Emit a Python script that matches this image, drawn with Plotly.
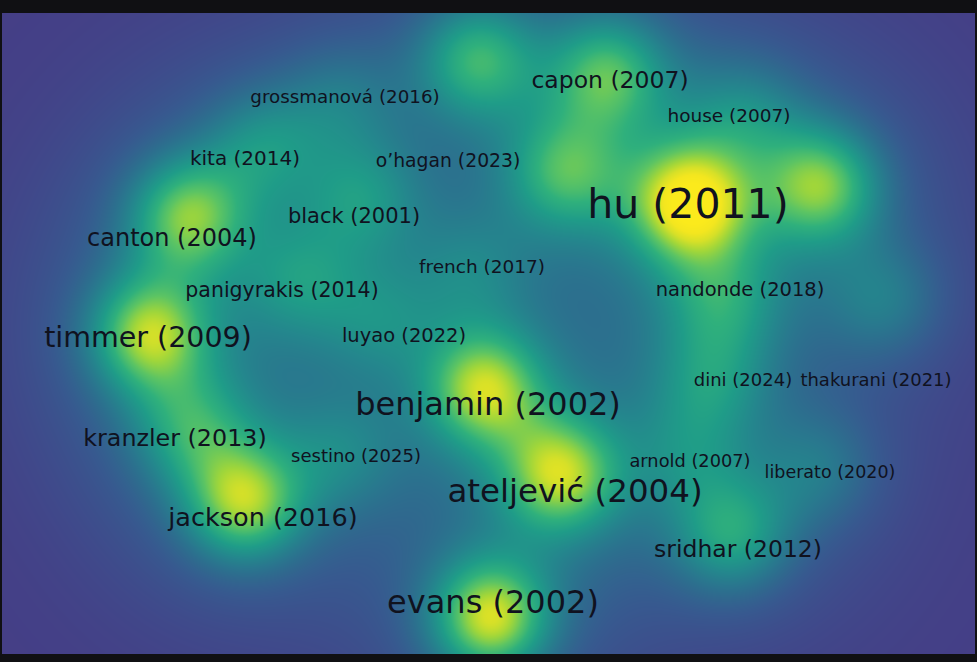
import numpy as np
import plotly.graph_objects as go

# ---- density nodes (map coordinates, y grows downward) ----
node_x = [690, 822, 565, 607, 477, 262, 340, 187, 362, 300, 148, 380, 470, 484,
          190, 340, 244, 560, 490, 732, 722, 712, 885, 745, 690, 820]
node_y = [203, 185, 172, 72, 58, 145, 100, 215, 198, 280, 334, 320, 270, 388,
          428, 455, 502, 474, 618, 535, 300, 380, 300, 115, 455, 470]
node_w = [1.0, 0.78, 0.58, 0.66, 0.66, 0.38, 0.26, 0.76, 0.38, 0.34, 0.86, 0.28, 0.25, 0.86,
          0.48, 0.28, 0.88, 0.86, 1.02, 0.58, 0.4, 0.36, 0.34, 0.3, 0.26, 0.3]

# ---- item labels ----
labels = ["hu (2011)", "capon (2007)", "house (2007)", "grossmanová (2016)", "kita (2014)",
          "o’hagan (2023)", "black (2001)", "canton (2004)", "french (2017)",
          "panigyrakis (2014)", "nandonde (2018)", "timmer (2009)", "luyao (2022)",
          "benjamin (2002)", "dini (2024)", "thakurani (2021)", "kranzler (2013)",
          "sestino (2025)", "arnold (2007)", "liberato (2020)", "ateljević (2004)",
          "jackson (2016)", "sridhar (2012)", "evans (2002)"]
label_x = [688, 610, 729, 345, 245, 448, 354, 172, 482, 282, 740, 148, 404,
           488, 743, 876, 175, 356, 690, 830, 575, 263, 738, 493]
label_y = [208, 82, 117, 98, 160, 162, 218, 240, 268, 292, 291, 340, 337,
           407, 381, 381, 440, 457, 463, 474, 494, 520, 551, 605]
label_size = [41, 23.5, 18.5, 18.3, 20, 18.8, 21, 24, 18.5, 20.5, 19.5, 28.5, 19.5,
              32, 18, 18, 23.8, 18, 17.8, 17.5, 32.5, 25.5, 23.5, 32]

# ---- kernel density surface ----
X0, X1, Y0, Y1 = 2, 975, 13, 654
gx = np.arange(X0, X1 + 1, 3.0)
gy = np.arange(Y0, Y1 + 1, 3.0)
GX, GY = np.meshgrid(gx, gy)
z = np.zeros_like(GX)
for x, y, w in zip(node_x, node_y, node_w):
    r2 = (GX - x) ** 2 + (GY - y) ** 2
    z += w * (0.8 * np.exp(-r2 / (2 * 42.0 ** 2)) + 0.2 * np.exp(-r2 / (2 * 100.0 ** 2)))

scale = [
    [0.00, "#453e86"], [0.08, "#3f4a8b"], [0.18, "#37598f"], [0.30, "#2c6f8e"],
    [0.42, "#24868d"], [0.53, "#1f9c88"], [0.63, "#2fb07c"], [0.72, "#5cc463"],
    [0.81, "#a0d63a"], [0.88, "#d6e028"], [0.94, "#f3e61f"], [1.00, "#fbea1c"],
]

fig = go.Figure()
fig.add_trace(go.Heatmap(
    x=gx, y=gy, z=z, zmin=0, zmax=float(0.94 * z.max()),
    colorscale=scale, zsmooth="best", showscale=False, hoverinfo="skip",
))
fig.add_trace(go.Scatter(
    x=label_x, y=label_y, mode="text", text=labels,
    textposition="middle center",
    textfont=dict(family="DejaVu Sans", size=label_size, color="#10121f"),
    hoverinfo="text", showlegend=False,
))

fig.update_xaxes(range=[X0, X1], visible=False, showgrid=False, zeroline=False)
fig.update_yaxes(range=[Y1, Y0], visible=False, showgrid=False, zeroline=False)
fig.update_layout(
    width=977, height=662,
    margin=dict(l=X0, r=977 - X1, t=Y0, b=662 - Y1),
    paper_bgcolor="#101013", plot_bgcolor="#453e86",
    showlegend=False,
)
fig.write_html("out.html")
